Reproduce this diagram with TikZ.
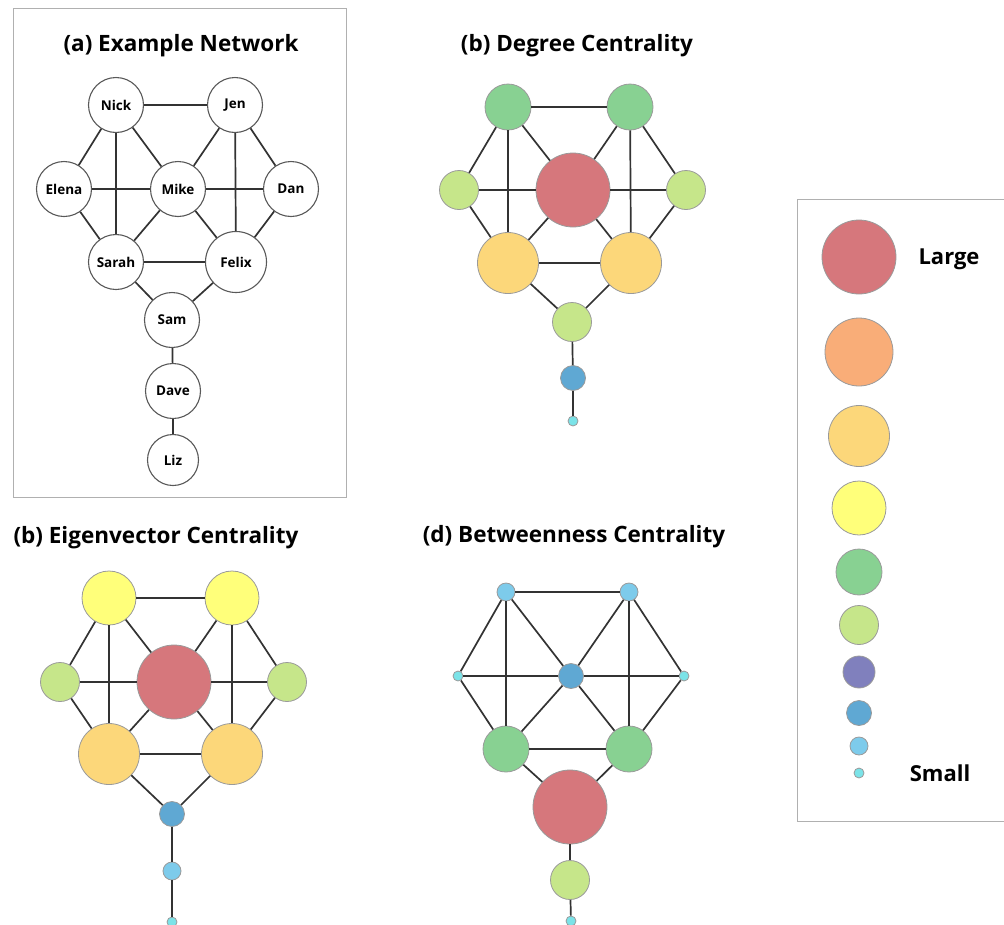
\documentclass[tikz,border=0pt]{standalone}
\usepackage{fontspec}
\setmainfont{Open Sans}
\definecolor{cRed}{HTML}{D6777C}
\definecolor{cOrange}{HTML}{F9AD78}
\definecolor{cYelOr}{HTML}{FCD77A}
\definecolor{cYellow}{HTML}{FFFF7A}
\definecolor{cGreen}{HTML}{88D192}
\definecolor{cLGreen}{HTML}{C6E68A}
\definecolor{cPurple}{HTML}{8080BD}
\definecolor{cBlue}{HTML}{5FA8D3}
\definecolor{cLBlue}{HTML}{7DCBEB}
\definecolor{cCyan}{HTML}{7BE3E8}
\definecolor{edgegray}{HTML}{333333}
\definecolor{rimgray}{HTML}{9A9A9A}
\definecolor{boxgray}{HTML}{B0B0B0}
\begin{document}
\begin{tikzpicture}[x=1pt,y=-1pt,
  dot/.style={circle,inner sep=0pt,draw=rimgray,line width=0.8pt},
  lv1/.style={dot,fill=cRed,minimum size=74pt},
  lv2/.style={dot,fill=cOrange,minimum size=68pt},
  lv3/.style={dot,fill=cYelOr,minimum size=61pt},
  lv4/.style={dot,fill=cYellow,minimum size=54pt},
  lv5/.style={dot,fill=cGreen,minimum size=46pt},
  lv6/.style={dot,fill=cLGreen,minimum size=39pt},
  lv7/.style={dot,fill=cPurple,minimum size=32pt},
  lv8/.style={dot,fill=cBlue,minimum size=25pt},
  lv9/.style={dot,fill=cLBlue,minimum size=18pt},
  lv10/.style={dot,fill=cCyan,minimum size=10pt},
  person/.style={circle,inner sep=0pt,draw=black!65,line width=1.1pt,fill=white,minimum size=55pt,font=\fontsize{13.5}{16}\selectfont\bfseries},
  link/.style={draw=edgegray,line width=1.7pt},
  paneltitle/.style={font=\fontsize{22.5}{27}\selectfont\bfseries,inner sep=0pt},
  legtext/.style={font=\fontsize{22}{26}\selectfont\bfseries,inner sep=0pt},
  frame/.style={draw=boxgray,line width=1pt}]
\useasboundingbox (0,0) rectangle (1004,924);
% frames
\draw[frame] (13,8) rectangle (346,497);
\draw[frame] (1006,199) -- (797,199) -- (797,821) -- (1006,821);
% titles
\node[paneltitle] (ta) at (181,46) {(a) Example Network};
\node[paneltitle] (tb) at (577,46) {(b) Degree Centrality};
\node[paneltitle] (tc) at (156,538) {(b) Eigenvector Centrality};
\node[paneltitle] (td) at (574,537) {(d) Betweenness Centrality};
% panel (a)
\node[person] (aNick) at (116,105) {Nick};
\node[person] (aJen) at (235,105) {Jen};
\node[person] (aElena) at (64,189) {Elena};
\node[person] (aMike) at (178,189) {Mike};
\node[person] (aDan) at (291,189) {Dan};
\node[person] (aSarah) at (116,262) {Sarah};
\node[person,minimum size=61pt] (aFelix) at (236,262) {Felix};
\node[person] (aSam) at (172,320) {Sam};
\node[person] (aDave) at (173,391) {Dave};
\node[person,minimum size=51pt] (aLiz) at (173,460) {Liz};
% panel (b) degree
\node[lv5] (bNick) at (508,107) {};
\node[lv5] (bJen) at (630,107) {};
\node[lv6] (bElena) at (459,190) {};
\node[lv1] (bMike) at (573,190) {};
\node[lv6] (bDan) at (686,190) {};
\node[lv3] (bSarah) at (508,263) {};
\node[lv3] (bFelix) at (631,263) {};
\node[lv6] (bSam) at (572,322) {};
\node[lv8] (bDave) at (573,378) {};
\node[lv10] (bLiz) at (573,421) {};
% panel (c) eigenvector
\node[lv4] (cNick) at (109,598) {};
\node[lv4] (cJen) at (232,598) {};
\node[lv6] (cElena) at (60,682) {};
\node[lv1] (cMike) at (174,682) {};
\node[lv6] (cDan) at (287,682) {};
\node[lv3] (cSarah) at (109,754) {};
\node[lv3] (cFelix) at (232,754) {};
\node[lv8] (cSam) at (172,814) {};
\node[lv9] (cDave) at (172,871) {};
\node[lv10] (cLiz) at (172,922) {};
% panel (d) betweenness
\node[lv9] (dNick) at (506,592) {};
\node[lv9] (dJen) at (629,592) {};
\node[lv10] (dElena) at (458,676) {};
\node[lv8] (dMike) at (571,676) {};
\node[lv10] (dDan) at (684,676) {};
\node[lv5] (dSarah) at (506,749) {};
\node[lv5] (dFelix) at (629,749) {};
\node[lv1] (dSam) at (570,807) {};
\node[lv6] (dDave) at (570,880) {};
\node[lv10] (dLiz) at (571,921) {};
% edges
\foreach \p in {a,b,c,d}{
  \draw[link] (\p Nick) -- (\p Jen);
  \draw[link] (\p Nick) -- (\p Elena);
  \draw[link] (\p Nick) -- (\p Sarah);
  \draw[link] (\p Nick) -- (\p Mike);
  \draw[link] (\p Jen) -- (\p Mike);
  \draw[link] (\p Jen) -- (\p Felix);
  \draw[link] (\p Jen) -- (\p Dan);
  \draw[link] (\p Elena) -- (\p Mike);
  \draw[link] (\p Mike) -- (\p Dan);
  \draw[link] (\p Elena) -- (\p Sarah);
  \draw[link] (\p Mike) -- (\p Sarah);
  \draw[link] (\p Mike) -- (\p Felix);
  \draw[link] (\p Dan) -- (\p Felix);
  \draw[link] (\p Sarah) -- (\p Felix);
  \draw[link] (\p Sarah) -- (\p Sam);
  \draw[link] (\p Felix) -- (\p Sam);
  \draw[link] (\p Sam) -- (\p Dave);
  \draw[link] (\p Dave) -- (\p Liz);
}
% legend
\node[lv1] (g1) at (859,257) {};
\node[lv2] (g2) at (859,352) {};
\node[lv3] (g3) at (859,436) {};
\node[lv4] (g4) at (859,508) {};
\node[lv5] (g5) at (859,572) {};
\node[lv6] (g6) at (859,625) {};
\node[lv7] (g7) at (859,672) {};
\node[lv8] (g8) at (859,713) {};
\node[lv9] (g9) at (859,746) {};
\node[lv10] (g10) at (859,773) {};
\node[legtext] (large) at (949,259) {Large};
\node[legtext] (small) at (940,773) {Small};
\end{tikzpicture}
\end{document}
